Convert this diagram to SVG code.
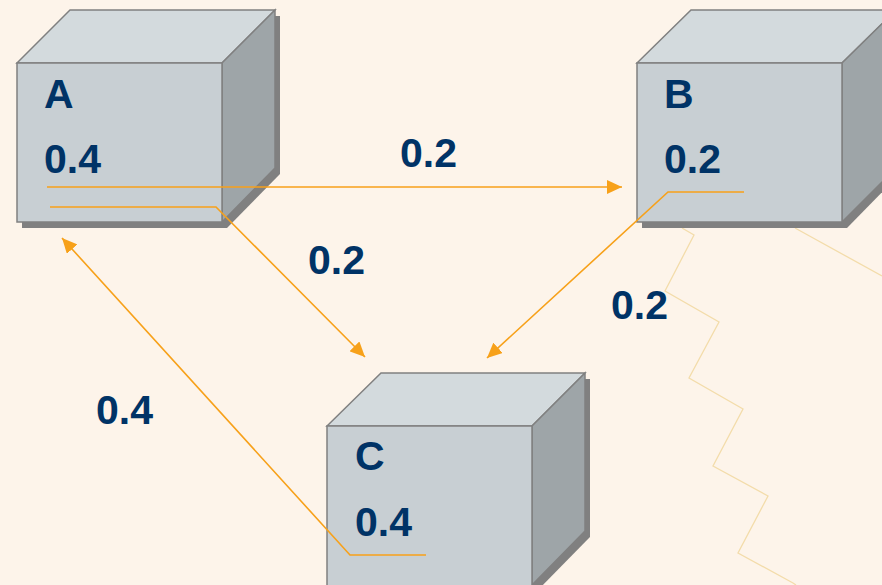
<svg xmlns="http://www.w3.org/2000/svg" width="882" height="585" viewBox="0 0 882 585">
<defs>
<style>
.shadow{fill:#808080}
.front{fill:#c8cfd3;stroke:#808080;stroke-width:1.5}
.top{fill:#d3dadd;stroke:#808080;stroke-width:1.5}
.side{fill:#9ea5a8;stroke:#808080;stroke-width:1.5}
.lbl{font-family:"Liberation Sans",Arial,sans-serif;font-weight:bold;font-size:41px;fill:#003366}
.edge{fill:none;stroke:#f7a11a;stroke-width:1.6}
.zig{fill:none;stroke:#f3dcaa;stroke-width:1.3}
</style>
<marker id="arr" markerUnits="userSpaceOnUse" markerWidth="16" markerHeight="14" refX="15" refY="7" orient="auto">
<path d="M0,0 L15,7 L0,14 z" fill="#f7a11a"/>
</marker>
</defs>
<rect width="882" height="585" fill="#fdf4ea"/>
<g id="decor">
<polyline class="zig" points="682,228 694,235 665,291 719,322 689,378 743,409 713,466 768,496 738,553 793,583 796,585"/>
<polyline class="zig" points="795,228 882,276"/>
</g>
<g id="nodeA">
<polygon class="shadow" points="22,69 75,16 280,16 280,174 227,228 22,228"/>
<polygon class="top" points="17,63 70,10 275,10 222,63"/>
<polygon class="side" points="222,63 275,10 275,168 222,222"/>
<rect class="front" x="17" y="63" width="205" height="159"/>
<text class="lbl" x="44" y="108">A</text>
<text class="lbl" x="44" y="173">0.4</text>
</g>
<g id="nodeB">
<polygon class="shadow" points="642,69 695,16 900,16 900,174 847,228 642,228"/>
<polygon class="top" points="637,63 691,10 896,10 842,63"/>
<polygon class="side" points="842,63 896,10 896,168 842,222"/>
<rect class="front" x="637" y="63" width="205" height="159"/>
<text class="lbl" x="664" y="108">B</text>
<text class="lbl" x="664" y="173">0.2</text>
</g>
<g id="nodeC">
<polygon class="shadow" points="332,432 386,379 590,379 590,537 537,591 332,591"/>
<polygon class="top" points="327,426 381,373 585,373 532,426"/>
<polygon class="side" points="532,426 585,373 585,531 532,585"/>
<rect class="front" x="327" y="426" width="205" height="170"/>
<text class="lbl" x="355" y="470">C</text>
<text class="lbl" x="355" y="536">0.4</text>
</g>
<g id="connectors">
<polyline class="edge" points="47,187 622,187" marker-end="url(#arr)"/>
<polyline class="edge" points="50,207 216,207 365,357" marker-end="url(#arr)"/>
<polyline class="edge" points="744,192 668,192 487,358" marker-end="url(#arr)"/>
<polyline class="edge" points="426,555 350,555 62,238" marker-end="url(#arr)"/>
</g>
<g id="edge-labels">
<text class="lbl" x="400" y="167">0.2</text>
<text class="lbl" x="308" y="274">0.2</text>
<text class="lbl" x="611" y="319">0.2</text>
<text class="lbl" x="96" y="424">0.4</text>
</g>
</svg>
